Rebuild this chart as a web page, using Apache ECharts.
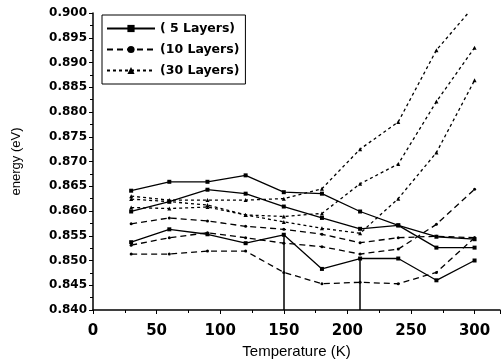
<!DOCTYPE html>
<html><head><meta charset="utf-8">
<script src="https://cdn.jsdelivr.net/npm/echarts@6/dist/echarts.min.js"></script>
<style>html,body{margin:0;padding:0;background:#fff}#c{width:503px;height:364px}</style>
</head><body><div id="c"></div>
<script>
var temps = [30, 60, 90, 120, 150, 180, 210, 240, 270, 300];
var seriesNames = ['( 5 Layers)', '(10 Layers)', '(30 Layers)'];
// 5 Layers (solid)
var L5a = [0.8641, 0.8659, 0.8659, 0.8672, 0.8638, 0.8635, 0.8599, 0.8571, 0.8548, 0.8543];
var L5b = [0.8599, 0.8619, 0.8643, 0.8635, 0.8609, 0.8586, 0.8564, 0.8571, 0.8526, 0.8526];
var L5c = [0.8537, 0.8563, 0.8553, 0.8535, 0.8552, 0.8483, 0.8504, 0.8504, 0.8460, 0.8500];
// 10 Layers (long dash)
var L10a = [0.8574, 0.8586, 0.8580, 0.8569, 0.8563, 0.8553, 0.8536, 0.8546, 0.8549, 0.8546];
var L10b = [0.8531, 0.8546, 0.8556, 0.8546, 0.8535, 0.8528, 0.8513, 0.8523, 0.8573, 0.8644];
var L10c = [0.8513, 0.8513, 0.8519, 0.8519, 0.8476, 0.8453, 0.8456, 0.8453, 0.8476, 0.8546];
// 30 Layers (short dash)
var L30a = [0.8630, 0.8622, 0.8622, 0.8622, 0.8625, 0.8645, 0.8725, 0.8780, 0.8925, 0.9015];
var L30b = [0.8624, 0.8619, 0.8612, 0.8592, 0.8589, 0.8595, 0.8655, 0.8695, 0.8821, 0.8930];
var L30c = [0.8607, 0.8605, 0.8608, 0.8592, 0.8578, 0.8565, 0.8555, 0.8625, 0.8718, 0.8864];
// vertical drop lines (temperatures) on lowest 5-layer curve
var dropTemps = [150, 210];
var yTicks = [0.840, 0.900, 0.005];
var xTicks = [0, 320, 50];

function pts(arr){ return temps.map(function(t,i){ return [t, arr[i]]; }); }
var styles = [
  {type:'solid', symbol:'rect', size:4},
  {type:[6,4], symbol:'circle', size:3},
  {type:[3,3], symbol:'triangle', size:4}
];
var groups = [[L5a,L5b,L5c],[L10a,L10b,L10c],[L30a,L30b,L30c]];
var series = [];
groups.forEach(function(g, gi){
  g.forEach(function(arr, k){
    var s = {
      name: seriesNames[gi], type:'line', data: pts(arr),
      symbol: styles[gi].symbol, symbolSize: styles[gi].size,
      lineStyle:{color:'#000', width:1.3, type:styles[gi].type},
      itemStyle:{color:'#000'}, z: 3, animation:false
    };
    if (gi === 0 && k === 2) {
      s.markLine = {
        symbol:'none', silent:true, animation:false,
        lineStyle:{color:'#000', width:1.5, type:'solid'}, label:{show:false},
        data: dropTemps.map(function(t){
          var v = arr[temps.indexOf(t)];
          return [{coord:[t, v]}, {coord:[t, yTicks[0]]}];
        })
      };
    }
    series.push(s);
  });
});

var chart = echarts.init(document.getElementById('c'));
chart.setOption({
  animation:false,
  grid:{left:93, right:0, top:13, bottom:47},
  legend:{
    data: seriesNames, orient:'vertical', left:102, top:15,
    borderColor:'#000', borderWidth:1, padding:[7,6,7,4], itemGap:8,
    itemWidth:48, itemHeight:9,
    textStyle:{fontFamily:'DejaVu Sans', fontWeight:'bold', fontSize:12.5, color:'#000'}
  },
  xAxis:{
    type:'value', min:xTicks[0], max:xTicks[1], interval:xTicks[2],
    name:'Temperature (K)', nameLocation:'middle', nameGap:34,
    nameTextStyle:{fontFamily:'Liberation Sans', fontSize:15, color:'#000'},
    axisLine:{lineStyle:{color:'#000', width:1.5}},
    axisTick:{show:true, length:4, lineStyle:{color:'#000'}},
    minorTick:{show:true, splitNumber:2, length:3, lineStyle:{color:'#000'}},
    splitLine:{show:false},
    axisLabel:{color:'#000', fontFamily:'DejaVu Sans', fontWeight:'bold', fontSize:15, margin:14,
      formatter:function(v){ return v % 50 === 0 ? String(v) : ''; }}
  },
  yAxis:{
    type:'value', min:yTicks[0], max:yTicks[1], interval:yTicks[2],
    name:'energy (eV)', nameLocation:'middle', nameGap:70,
    nameTextStyle:{fontFamily:'Liberation Sans', fontSize:13, color:'#000'},
    axisLine:{lineStyle:{color:'#000', width:1.5}},
    axisTick:{show:true, length:4, lineStyle:{color:'#000'}},
    minorTick:{show:true, splitNumber:2, length:3, lineStyle:{color:'#000'}},
    splitLine:{show:false},
    axisLabel:{color:'#000', fontFamily:'DejaVu Sans', fontWeight:'bold', fontSize:12, margin:6,
      formatter:function(v){ return v.toFixed(3); }}
  },
  series: series
});
</script></body></html>
